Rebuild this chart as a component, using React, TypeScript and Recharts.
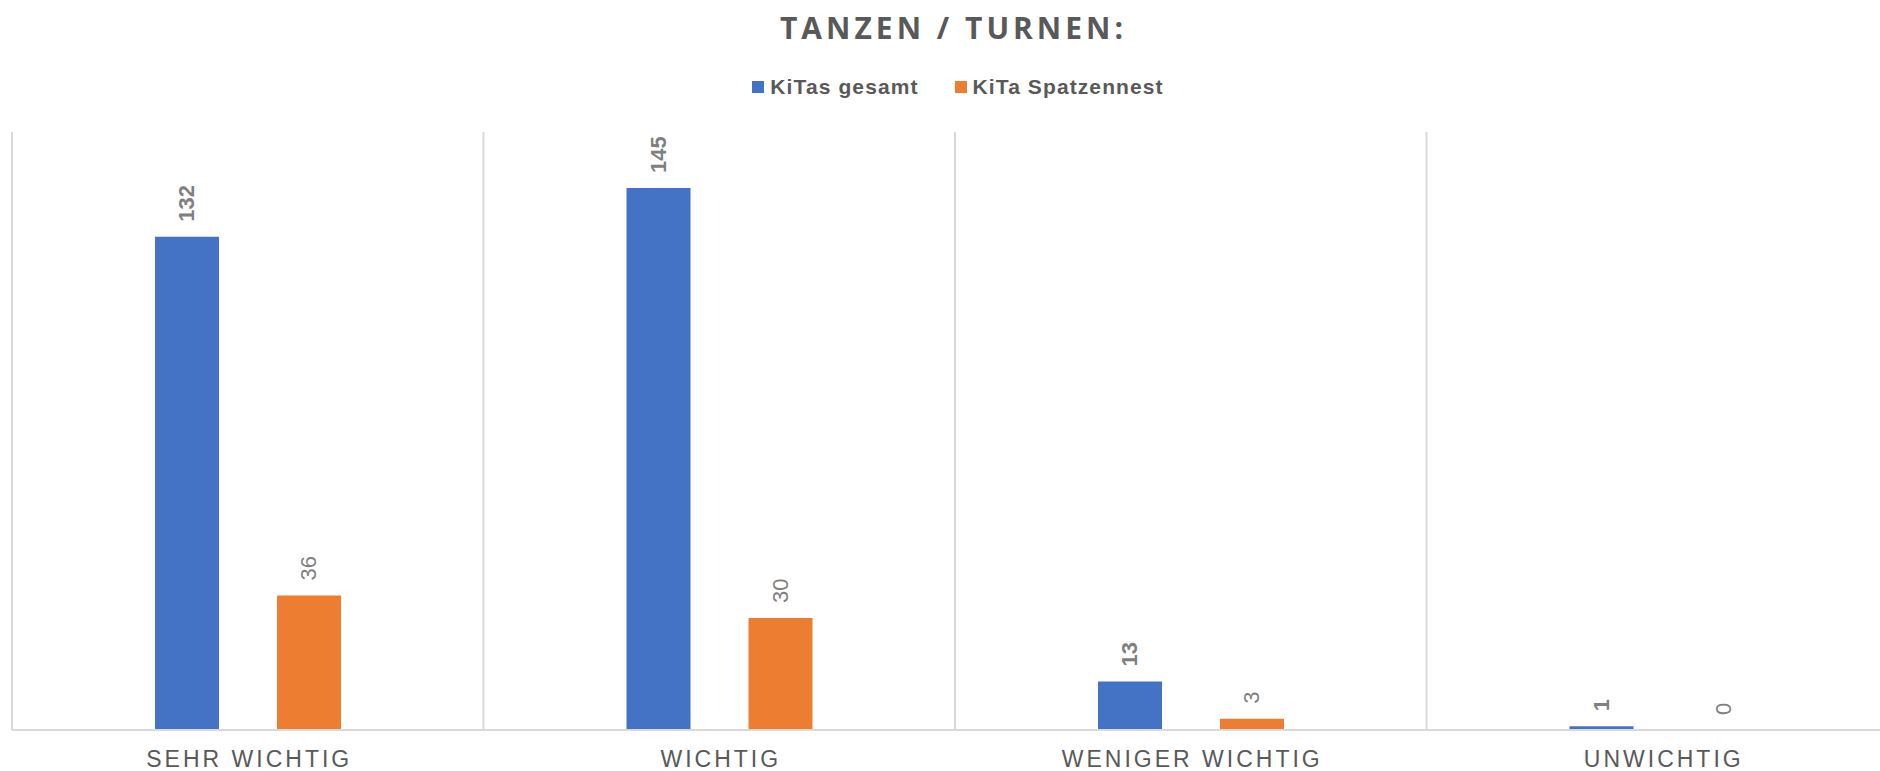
import React from 'react';
import { BarChart, Bar, XAxis, YAxis, CartesianGrid, LabelList } from 'recharts';

const categories = ['SEHR WICHTIG', 'WICHTIG', 'WENIGER WICHTIG', 'UNWICHTIG'];
const kitasGesamt = [132, 145, 13, 1];
const kitaSpatzennest = [36, 30, 3, 0];
const seriesNames = ['KiTas gesamt', 'KiTa Spatzennest'];
const seriesColors = ['#4472C4', '#ED7D31'];
const titleText = 'TANZEN / TURNEN:';
const yDomain = [0, 160];

const data = categories.map((c, i) => ({
  name: c,
  gesamt: kitasGesamt[i],
  spatz: kitaSpatzennest[i],
}));

const makeLabel = (bold: boolean) => (props: any) => {
  const { x, y, width, height, value } = props;
  const cx = x + width / 2;
  const top = height < 0 ? y + height : y;
  const ty = top - 15;
  return (
    <text
      x={cx}
      y={ty}
      transform={`rotate(-90 ${cx} ${ty})`}
      textAnchor="start"
      dominantBaseline="central"
      fill="#7F7F7F"
      fontFamily="'Liberation Sans', Arial, sans-serif"
      fontSize={22}
      fontWeight={bold ? 700 : 400}
    >
      {value}
    </text>
  );
};

const Tick = (props: any) => {
  const { x, y, payload } = props;
  return (
    <text
      x={x + 1.5}
      y={y}
      dy={29}
      textAnchor="middle"
      fill="#595959"
      fontFamily="'Liberation Sans', Arial, sans-serif"
      fontSize={23}
      letterSpacing={3}
    >
      {payload.value}
    </text>
  );
};

export default function App() {
  return (
    <div style={{ position: 'fixed', left: 0, top: 0, width: 1880, height: 771, overflow: 'hidden', background: '#fff' }}>
      <div
        style={{
          position: 'absolute',
          left: 0,
          width: 1907,
          top: 10,
          textAlign: 'center',
          fontFamily: "'Open Sans', sans-serif",
          fontWeight: 700,
          fontSize: 30,
          letterSpacing: 4,
          color: '#595959',
          lineHeight: '36px',
        }}
      >
        {titleText}
      </div>
      <div
        style={{
          position: 'absolute',
          left: 0,
          width: 1916,
          top: 76,
          display: 'flex',
          justifyContent: 'center',
          fontFamily: "'Liberation Sans', Arial, sans-serif",
          fontWeight: 700,
          fontSize: 21,
          letterSpacing: 1.1,
          color: '#595959',
          lineHeight: '22px',
        }}
      >
        {seriesNames.map((n, i) => (
          <div key={n} style={{ display: 'flex', alignItems: 'center', marginRight: i === 0 ? 36 : 0 }}>
            <span style={{ display: 'inline-block', width: 12, height: 12, background: seriesColors[i], marginRight: 6 }} />
            <span>{n}</span>
          </div>
        ))}
      </div>
      <div style={{ position: 'absolute', left: 0, top: 0 }}>
        <BarChart
          width={1900}
          height={771}
          data={data}
          margin={{ top: 132, right: 2, bottom: 0, left: 12 }}
          barSize={64}
          barGap={58}
        >
          <CartesianGrid
            horizontal={false}
            stroke="#D9D9D9"
            strokeWidth={2}
            verticalCoordinatesGenerator={(p: any) => {
              const o = p.offset;
              return [0, 1, 2, 3, 4].map((i) => o.left + (i * o.width) / 4);
            }}
          />
          <XAxis
            dataKey="name"
            height={41}
            tickLine={false}
            axisLine={{ stroke: '#D9D9D9', strokeWidth: 2 }}
            tick={<Tick />}
            interval={0}
          />
          <YAxis hide domain={yDomain} />
          <Bar dataKey="gesamt" name={seriesNames[0]} fill={seriesColors[0]} isAnimationActive={false} minPointSize={0.01}>
            <LabelList dataKey="gesamt" content={makeLabel(true)} />
          </Bar>
          <Bar dataKey="spatz" name={seriesNames[1]} fill={seriesColors[1]} isAnimationActive={false} minPointSize={0.01}>
            <LabelList dataKey="spatz" content={makeLabel(false)} />
          </Bar>
        </BarChart>
      </div>
    </div>
  );
}
